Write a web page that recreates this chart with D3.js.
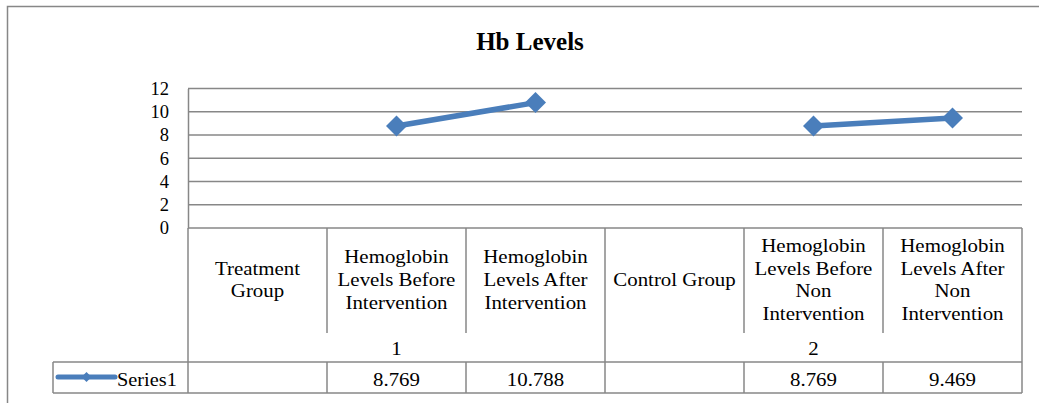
<!DOCTYPE html>
<html>
<head>
<script type="text/javascript" src="https://cdn.jsdelivr.net/npm/d3@7/dist/d3.min.js"></script>
</head>
<body style="margin:0; background:white">
<script>

// chart data
var title = "Hb Levels";
var categories = ["Treatment\nGroup",
                  "Hemoglobin\nLevels Before\nIntervention",
                  "Hemoglobin\nLevels After\nIntervention",
                  "Control Group",
                  "Hemoglobin\nLevels Before\nNon\nIntervention",
                  "Hemoglobin\nLevels After\nNon\nIntervention"];
var groupLabels = ["1", "2"];
var groupOf = [0, 0, 0, 1, 1, 1];
var series1 = [null, 8.769, 10.788, null, 8.769, 9.469];
var seriesName = "Series1";
var yTicks = [0, 2, 4, 6, 8, 10, 12];

var width = 1039,
    height = 403,
    font = "Liberation Serif",
    gridColor = "#878787",
    lineColor = "#4a7ebb",
    sx = 1.1,          // text in the picture is a bit wide
    plotTop = 88.5,
    plotBottom = 228,
    catBottom = 333,
    groupBottom = 362,
    tableBottom = 393,
    legendLeft = 53;

var svg = d3.select("body").append("svg")
            .attr("width", width)
            .attr("height", height)
            .attr("font-family", font)
            .style("font-family", font);

// outer chart border (runs off the right and bottom)
svg.append("path")
   .attr("d", "M7.5," + height + "V6.5H" + (width + 2))
   .attr("fill", "none")
   .attr("stroke", gridColor)
   .attr("stroke-width", 1.5);

var x = d3.scaleBand()
          .domain(d3.range(categories.length))
          .range([188, 1022])
          .padding(0);

var y = d3.scaleLinear()
          .domain([0, 12])
          .range([plotBottom, plotTop]);

// stretched text helper
function stext(g, px, py, str, size, anchor, scale) {
  return g.append("text")
          .attr("transform", "translate(" + px + "," + py + ") scale(" + (scale || sx) + ",1)")
          .attr("text-anchor", anchor || "middle")
          .style("font-family", font)
          .style("font-size", size + "px")
          .style("fill", "#000")
          .text(str);
}

// title
svg.append("text")
   .attr("x", 530)
   .attr("y", 50)
   .attr("text-anchor", "middle")
   .style("font-family", font)
   .style("font-size", "25px")
   .style("font-weight", "bold")
   .text(title);

// gridlines
svg.append("g")
   .selectAll("line")
   .data(yTicks.filter(function (d) { return d > 0; }))
   .enter().append("line")
   .attr("x1", x.range()[0])
   .attr("x2", x.range()[1])
   .attr("y1", function (d) { return y(d); })
   .attr("y2", function (d) { return y(d); })
   .attr("stroke", gridColor)
   .attr("stroke-width", 1.5);

// y axis
var yAxis = svg.append("g")
   .attr("transform", "translate(" + x.range()[0] + ",0)")
   .call(d3.axisLeft(y).tickValues(yTicks).tickSize(0).tickPadding(19));
yAxis.attr("font-family", font).attr("font-size", 18.5);
yAxis.select(".domain").attr("stroke", gridColor).attr("stroke-width", 1.5);
yAxis.selectAll("text")
     .style("font-family", font)
     .style("font-size", "18.5px")
     .attr("fill", "#000");

// data table
var grid = svg.append("g")
              .attr("stroke", gridColor)
              .attr("stroke-width", 1.5)
              .attr("fill", "none");

var x0 = x.range()[0], x1 = x.range()[1];
grid.append("line").attr("x1", x0).attr("x2", x1).attr("y1", plotBottom).attr("y2", plotBottom);
grid.append("line").attr("x1", legendLeft).attr("x2", x1).attr("y1", groupBottom).attr("y2", groupBottom);
grid.append("line").attr("x1", legendLeft).attr("x2", x1).attr("y1", tableBottom).attr("y2", tableBottom);
grid.append("line").attr("x1", legendLeft).attr("x2", legendLeft).attr("y1", groupBottom).attr("y2", tableBottom);
grid.append("line").attr("x1", x0).attr("x2", x0).attr("y1", plotBottom).attr("y2", tableBottom);
grid.append("line").attr("x1", x1).attr("x2", x1).attr("y1", plotBottom).attr("y2", tableBottom);

categories.forEach(function (c, i) {
  if (i == 0) return;
  var xx = x(i);
  if (groupOf[i] != groupOf[i - 1]) {
    grid.append("line").attr("x1", xx).attr("x2", xx).attr("y1", plotBottom).attr("y2", tableBottom);
  } else {
    grid.append("line").attr("x1", xx).attr("x2", xx).attr("y1", plotBottom).attr("y2", catBottom);
    grid.append("line").attr("x1", xx).attr("x2", xx).attr("y1", groupBottom).attr("y2", tableBottom);
  }
});

// category labels
var lineH = 22.7;
categories.forEach(function (c, i) {
  var lines = c.split("\n");
  var cx = x(i) + x.bandwidth() / 2;
  lines.forEach(function (l, k) {
    stext(svg, cx, 286 + (k - (lines.length - 1) / 2) * lineH, l, 19);
  });
});

// group labels
groupLabels.forEach(function (g, gi) {
  var idx = groupOf.map(function (d, i) { return d == gi ? i : -1; }).filter(function (d) { return d >= 0; });
  var gx0 = x(idx[0]), gx1 = x(idx[idx.length - 1]) + x.bandwidth();
  stext(svg, (gx0 + gx1) / 2, 354.5, g, 19);
});

// value row
series1.forEach(function (v, i) {
  if (v == null) return;
  stext(svg, x(i) + x.bandwidth() / 2, 386, d3.format(".3f")(v), 19);
});

// legend key
var diamond = d3.symbol().type(d3.symbolSquare);
svg.append("line")
   .attr("x1", 58).attr("x2", 115)
   .attr("y1", 377).attr("y2", 377)
   .attr("stroke", lineColor)
   .attr("stroke-width", 5)
   .attr("stroke-linecap", "round");
svg.append("path")
   .attr("d", diamond.size(50)())
   .attr("transform", "translate(86.5,377) rotate(45)")
   .attr("fill", lineColor);
stext(svg, 117, 386, seriesName, 19, "start", 1.07);

// series line
var line = d3.line()
             .defined(function (d) { return d != null; })
             .x(function (d, i) { return x(i) + x.bandwidth() / 2; })
             .y(function (d) { return y(d); });

svg.append("path")
   .datum(series1)
   .attr("d", line)
   .attr("fill", "none")
   .attr("stroke", lineColor)
   .attr("stroke-width", 5.5)
   .attr("stroke-linejoin", "round");

svg.append("g")
   .selectAll("path")
   .data(series1.map(function (d, i) { return {v: d, i: i}; }).filter(function (d) { return d.v != null; }))
   .enter().append("path")
   .attr("d", diamond.size(220)())
   .attr("transform", function (d) {
     return "translate(" + (x(d.i) + x.bandwidth() / 2) + "," + y(d.v) + ") rotate(45)";
   })
   .attr("fill", lineColor);

</script>
</body>
</html>
